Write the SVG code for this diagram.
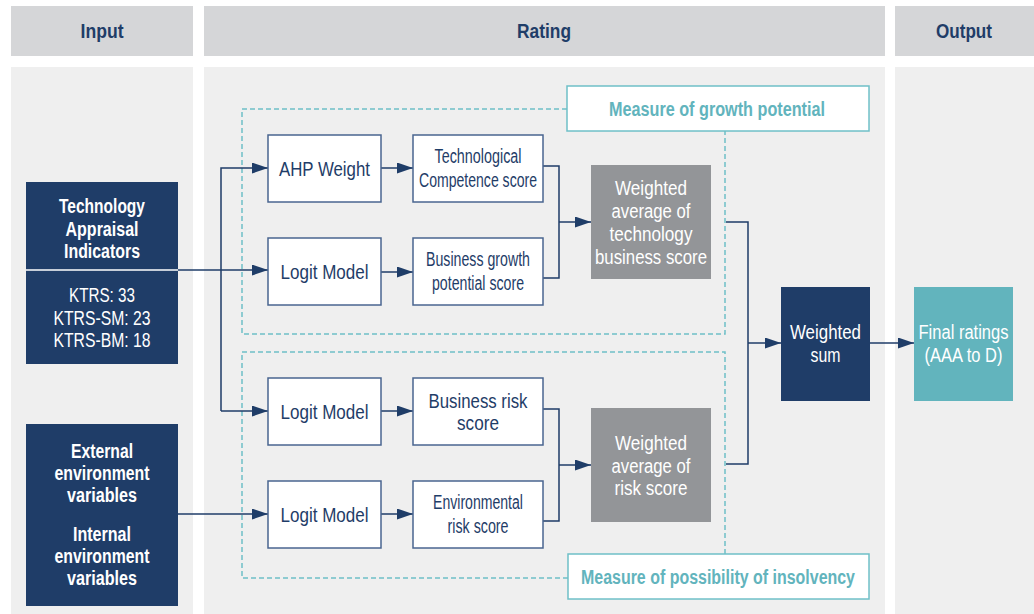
<svg xmlns="http://www.w3.org/2000/svg" width="1034" height="614" viewBox="0 0 1034 614">
<style>
text{font-family:"Liberation Sans",Arial,sans-serif;text-anchor:middle}
.hdr{fill:#d5d6d8}
.pan{fill:#efefef}
.ht{font-weight:bold;font-size:21px;fill:#1f3d68}
.nv{fill:#1f3d68}
.wb{fill:#ffffff;stroke:#4a6590;stroke-width:1.5}
.gb{fill:#939598}
.wt{fill:#ffffff}
.bt{fill:#1f3d68}
.b{font-weight:bold}
.dash{fill:none;stroke:#6fc0c8;stroke-width:1.5;stroke-dasharray:5,3}
.lb{fill:#ffffff;stroke:#6fc0c8;stroke-width:1.5}
.lt{fill:#62b4bd;font-weight:bold;font-size:20px}
.c{fill:none;stroke:#1f3d68;stroke-width:1.5}
</style>
<defs>
<marker id="ah" viewBox="0 0 16 11" refX="16" refY="5.5" markerWidth="16" markerHeight="11" markerUnits="userSpaceOnUse" orient="auto"><path d="M0,0 L16,5.5 L0,11 z" fill="#1f3d68"/></marker>
</defs>
<rect width="1034" height="614" fill="#ffffff"/>
<g id="headers">
<rect class="hdr" x="11" y="6" width="182" height="50"/>
<rect class="hdr" x="204" y="6" width="681" height="50"/>
<rect class="hdr" x="895" y="6" width="139" height="50"/>
<text class="ht" x="102" y="38" textLength="43" lengthAdjust="spacingAndGlyphs">Input</text>
<text class="ht" x="544" y="38" textLength="54" lengthAdjust="spacingAndGlyphs">Rating</text>
<text class="ht" x="964" y="38" textLength="56" lengthAdjust="spacingAndGlyphs">Output</text>
</g>
<g id="panels">
<rect class="pan" x="11" y="67" width="182" height="547"/>
<rect class="pan" x="204" y="67" width="681" height="547"/>
<rect class="pan" x="895" y="67" width="139" height="547"/>
</g>
<g id="groups">
<path class="dash" d="M567,109 H242 V334 H725 V131"/>
<rect class="lb" x="567" y="86" width="302" height="45"/>
<text class="lt" x="717" y="116" textLength="216" lengthAdjust="spacingAndGlyphs">Measure of growth potential</text>
<path class="dash" d="M568,578 H242 V352 H725 V554"/>
<rect class="lb" x="568" y="554" width="301" height="45"/>
<text class="lt" x="718" y="584" textLength="274" lengthAdjust="spacingAndGlyphs">Measure of possibility of insolvency</text>
</g>
<g id="connectors">
<path class="c" d="M26,270 H268" marker-end="url(#ah)"/>
<path class="c" d="M221,411 V168 H268" marker-end="url(#ah)"/>
<path class="c" d="M221,411 H268" marker-end="url(#ah)"/>
<path class="c" d="M178,514 H268" marker-end="url(#ah)"/>
<path class="c" d="M381,168 H413" marker-end="url(#ah)"/>
<path class="c" d="M381,272 H413" marker-end="url(#ah)"/>
<path class="c" d="M381,411 H413" marker-end="url(#ah)"/>
<path class="c" d="M381,514 H413" marker-end="url(#ah)"/>
<path class="c" d="M543,166 H559 V278 H543"/>
<path class="c" d="M559,222 H591" marker-end="url(#ah)"/>
<path class="c" d="M543,409 H559 V521 H543"/>
<path class="c" d="M559,465 H591" marker-end="url(#ah)"/>
<path class="c" d="M726,222 H748 V464 H726"/>
<path class="c" d="M748,343 H781" marker-end="url(#ah)"/>
<path class="c" d="M870,343 H914" marker-end="url(#ah)"/>
</g>
<g id="tech">
<rect class="nv" x="26" y="182" width="152" height="182"/>
<line x1="26" y1="270" x2="178" y2="270" stroke="#ffffff" stroke-width="1.5"/>
<text class="wt b" font-size="20" x="102" y="213" textLength="86" lengthAdjust="spacingAndGlyphs">Technology</text>
<text class="wt b" font-size="20" x="102" y="236" textLength="73" lengthAdjust="spacingAndGlyphs">Appraisal</text>
<text class="wt b" font-size="20" x="102" y="258" textLength="76" lengthAdjust="spacingAndGlyphs">Indicators</text>
<text class="wt" font-size="20" x="102" y="302" textLength="66" lengthAdjust="spacingAndGlyphs">KTRS: 33</text>
<text class="wt" font-size="20" x="102" y="325" textLength="97" lengthAdjust="spacingAndGlyphs">KTRS-SM: 23</text>
<text class="wt" font-size="20" x="102" y="347" textLength="97" lengthAdjust="spacingAndGlyphs">KTRS-BM: 18</text>
</g>
<g id="env">
<rect class="nv" x="26" y="424" width="152" height="182"/>
<text class="wt b" font-size="20" x="102" y="458" textLength="62" lengthAdjust="spacingAndGlyphs">External</text>
<text class="wt b" font-size="20" x="102" y="480" textLength="95" lengthAdjust="spacingAndGlyphs">environment</text>
<text class="wt b" font-size="20" x="102" y="502" textLength="70" lengthAdjust="spacingAndGlyphs">variables</text>
<text class="wt b" font-size="20" x="102" y="541" textLength="58" lengthAdjust="spacingAndGlyphs">Internal</text>
<text class="wt b" font-size="20" x="102" y="563" textLength="95" lengthAdjust="spacingAndGlyphs">environment</text>
<text class="wt b" font-size="20" x="102" y="585" textLength="70" lengthAdjust="spacingAndGlyphs">variables</text>
</g>
<g id="ahp">
<rect class="wb" x="268" y="135" width="113" height="67"/>
<text class="bt" font-size="21" x="324.5" y="176" textLength="91" lengthAdjust="spacingAndGlyphs">AHP Weight</text>
</g>
<g id="logit1">
<rect class="wb" x="268" y="238" width="113" height="67"/>
<text class="bt" font-size="21" x="324.5" y="279" textLength="88" lengthAdjust="spacingAndGlyphs">Logit Model</text>
</g>
<g id="logit2">
<rect class="wb" x="268" y="378" width="113" height="67"/>
<text class="bt" font-size="21" x="324.5" y="419" textLength="88" lengthAdjust="spacingAndGlyphs">Logit Model</text>
</g>
<g id="logit3">
<rect class="wb" x="268" y="481" width="113" height="67"/>
<text class="bt" font-size="21" x="324.5" y="522" textLength="88" lengthAdjust="spacingAndGlyphs">Logit Model</text>
</g>
<g id="techscore">
<rect class="wb" x="413" y="135" width="130" height="67"/>
<text class="bt" font-size="19.5" x="478" y="163" textLength="87" lengthAdjust="spacingAndGlyphs">Technological</text>
<text class="bt" font-size="19.5" x="478" y="187" textLength="118" lengthAdjust="spacingAndGlyphs">Competence score</text>
</g>
<g id="bizgrowth">
<rect class="wb" x="413" y="238" width="130" height="67"/>
<text class="bt" font-size="19.5" x="478" y="266" textLength="104" lengthAdjust="spacingAndGlyphs">Business growth</text>
<text class="bt" font-size="19.5" x="478" y="290" textLength="92" lengthAdjust="spacingAndGlyphs">potential score</text>
</g>
<g id="bizrisk">
<rect class="wb" x="413" y="378" width="130" height="67"/>
<text class="bt" font-size="21" x="478" y="408" textLength="99" lengthAdjust="spacingAndGlyphs">Business risk</text>
<text class="bt" font-size="21" x="478" y="430" textLength="42" lengthAdjust="spacingAndGlyphs">score</text>
</g>
<g id="envrisk">
<rect class="wb" x="413" y="481" width="130" height="67"/>
<text class="bt" font-size="19.5" x="478" y="509" textLength="90" lengthAdjust="spacingAndGlyphs">Environmental</text>
<text class="bt" font-size="19.5" x="478" y="533" textLength="61" lengthAdjust="spacingAndGlyphs">risk score</text>
</g>
<g id="wavg1">
<rect class="gb" x="591" y="165" width="120" height="114"/>
<text class="wt" font-size="20" x="651" y="195" textLength="72" lengthAdjust="spacingAndGlyphs">Weighted</text>
<text class="wt" font-size="20" x="651" y="218" textLength="79" lengthAdjust="spacingAndGlyphs">average of</text>
<text class="wt" font-size="20" x="651" y="241" textLength="83" lengthAdjust="spacingAndGlyphs">technology</text>
<text class="wt" font-size="20" x="651" y="264" textLength="112" lengthAdjust="spacingAndGlyphs">business score</text>
</g>
<g id="wavg2">
<rect class="gb" x="591" y="408" width="120" height="114"/>
<text class="wt" font-size="20" x="651" y="450" textLength="72" lengthAdjust="spacingAndGlyphs">Weighted</text>
<text class="wt" font-size="20" x="651" y="473" textLength="79" lengthAdjust="spacingAndGlyphs">average of</text>
<text class="wt" font-size="20" x="651" y="495" textLength="73" lengthAdjust="spacingAndGlyphs">risk score</text>
</g>
<g id="wsum">
<rect class="nv" x="781" y="287" width="89" height="114"/>
<text class="wt" font-size="20" x="825.5" y="339" textLength="71" lengthAdjust="spacingAndGlyphs">Weighted</text>
<text class="wt" font-size="20" x="825.5" y="362" textLength="30" lengthAdjust="spacingAndGlyphs">sum</text>
</g>
<g id="final">
<rect x="914" y="287" width="99" height="114" fill="#62b4bd"/>
<text class="wt" font-size="20" x="963.5" y="339" textLength="90" lengthAdjust="spacingAndGlyphs">Final ratings</text>
<text class="wt" font-size="20" x="963.5" y="362" textLength="78" lengthAdjust="spacingAndGlyphs">(AAA to D)</text>
</g>
</svg>
